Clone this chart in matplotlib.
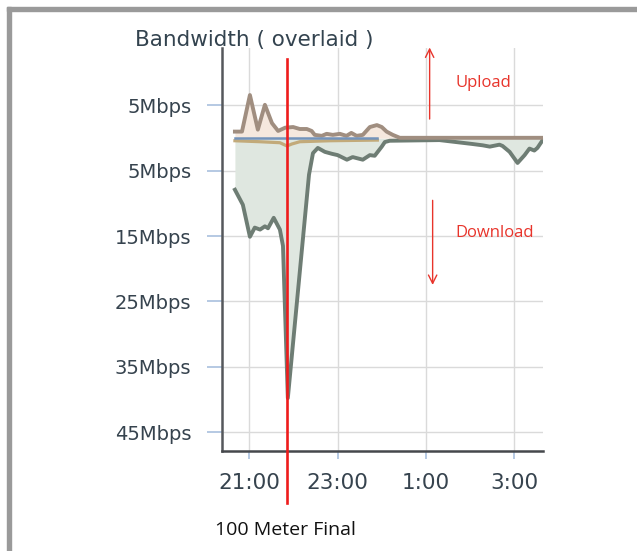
import matplotlib
matplotlib.use("Agg")
import matplotlib.pyplot as plt
from matplotlib.patches import Rectangle

# --- data (hours, 24.0 = midnight) ---
down_times = [20.67, 20.85, 21.01, 21.12, 21.24, 21.35, 21.42, 21.55, 21.69, 21.76, 21.87,
              22.35, 22.44, 22.55, 22.71, 22.87, 23.00, 23.21, 23.34, 23.57, 23.73, 23.84,
              24.00, 24.07, 24.18, 25.31, 26.06, 26.29, 26.45, 26.67, 26.74, 26.90, 27.08,
              27.24, 27.35, 27.46, 27.53, 27.65]
down_mbps = [7.9, 10.2, 15.1, 13.7, 14.0, 13.5, 13.8, 12.2, 14.0, 16.5, 39.8,
             5.6, 2.3, 1.5, 2.1, 2.4, 2.6, 3.3, 2.9, 3.3, 2.6, 2.7,
             1.3, 0.6, 0.4, 0.3, 0.9, 1.1, 1.3, 1.0, 1.2, 2.1, 3.8,
             2.6, 1.6, 1.9, 1.5, 0.3]

up_times = [20.67, 20.83, 21.01, 21.19, 21.35, 21.51, 21.65, 21.81, 21.99, 22.14, 22.30,
            22.41, 22.48, 22.64, 22.75, 22.89, 23.05, 23.20, 23.31, 23.43, 23.57, 23.73,
            23.89, 24.00, 24.11, 24.25, 24.41, 25.31, 27.65]
up_mbps = [1.0, 1.0, 6.6, 1.3, 5.1, 2.3, 1.1, 1.6, 1.7, 1.4, 1.4,
           1.1, 0.5, 0.35, 0.66, 0.5, 0.66, 0.35, 0.8, 0.35, 0.5, 1.7,
           2.0, 1.7, 1.0, 0.5, 0.05, 0.05, 0.05]

# third overlaid stream, just under zero
other_times = [20.67, 21.24, 21.69, 21.85, 21.96, 22.14, 22.82, 23.90]
other_mbps = [-0.4, -0.55, -0.7, -1.2, -0.9, -0.55, -0.4, -0.3]
zero_times = [20.67, 23.89]
zero_mbps = [0, 0]

tick_hours = [21, 23, 25, 27]
tick_names = ["21:00", "23:00", "1:00", "3:00"]
y_ticks = [5, -5, -15, -25, -35, -45]
y_names = ["5Mbps", "5Mbps", "15Mbps", "25Mbps", "35Mbps", "45Mbps"]

event_time = 21.85
event_name = "100 Meter Final"

W, H = 637, 551
fig = plt.figure(figsize=(W / 100, H / 100), dpi=100)
fig.patch.set_facecolor("white")

def fx(px):
    return px / W

def fy(py):
    return 1 - py / H

# gray screenshot frame
fig.patches.append(Rectangle((fx(7), fy(11)), 1, 4 / H, transform=fig.transFigure,
                             color="#9a9a9a", zorder=0))
fig.patches.append(Rectangle((fx(7), 0), 4 / W, fy(7), transform=fig.transFigure,
                             color="#9a9a9a", zorder=0))

ax = fig.add_axes([fx(222), fy(451), fx(543) - fx(222), fy(48) - fy(451)])

neg_down = [-v for v in down_mbps]
ax.fill_between(down_times, neg_down, 0, color="#dfe7e0", lw=0, zorder=1)
ax.fill_between(up_times, up_mbps, 0, color="#f5e8de", lw=0, zorder=1)
ax.plot(down_times, neg_down, color="#6e7d74", lw=2.8, zorder=3)
ax.plot(other_times, other_mbps, color="#c2aa7a", lw=2.3, zorder=3)
ax.plot(up_times, up_mbps, color="#a08e80", lw=2.8, zorder=4)
ax.plot(zero_times, zero_mbps, color="#7393bb", lw=1.8, zorder=4)

ax.set_xlim(20.377, 27.657)
ax.set_ylim(-47.9, 13.8)

ax.set_xticks(tick_hours)
ax.set_xticklabels(tick_names, fontsize=15.5, color="#36434e")
ax.set_yticks(y_ticks)
ax.set_yticklabels(y_names, fontsize=14, color="#36434e")
ax.tick_params(axis="y", length=11, width=1.2, color="#a9c0de", pad=11)
ax.tick_params(axis="x", length=6, width=1.2, color="#a9c0de", pad=10)
ax.grid(True, color="#dadada", lw=1.0)
ax.set_axisbelow(True)

for s in ["top", "right"]:
    ax.spines[s].set_visible(False)
ax.spines["left"].set_color("#55585c")
ax.spines["left"].set_linewidth(1.8)
ax.spines["bottom"].set_color("#45484c")
ax.spines["bottom"].set_linewidth(1.8)

fig.text(fx(254), fy(40), "Bandwidth ( overlaid )", fontsize=15.5, color="#33434f",
         ha="center", va="center")

# event marker
ax.axvline(event_time, ymin=-0.129, ymax=0.973, color="#ee1c1c", lw=1.9, clip_on=False, zorder=6)
fig.text(fx(215), fy(530), event_name, fontsize=14, family="Open Sans", color="#111111",
         ha="left", va="center")

# upload / download arrows
red = "#e8342b"
ax.annotate("", xy=(25.086, 14.3), xytext=(25.086, 2.5), annotation_clip=False,
            arrowprops=dict(arrowstyle="->,head_length=0.6,head_width=0.3", color=red, lw=1.0))
ax.annotate("", xy=(25.154, -22.9), xytext=(25.154, -9.1), annotation_clip=False,
            arrowprops=dict(arrowstyle="->,head_length=0.6,head_width=0.3", color=red, lw=1.0))
ax.text(25.675, 8.5, "Upload", fontsize=12, family="Open Sans", color=red, va="center")
ax.text(25.675, -14.5, "Download", fontsize=12, family="Open Sans", color=red, va="center")

fig.savefig("out.png", dpi=100)
